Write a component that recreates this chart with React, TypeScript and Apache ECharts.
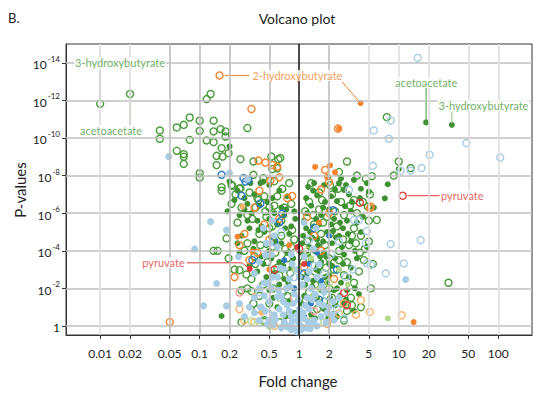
import React, { useEffect, useRef } from 'react';
import * as echarts from 'echarts';

// Every point is [log10 fold change, -log10 p-value].
const greenOpen: number[][] = [
  [-2.0, 11.82], [-1.70, 12.34],
  [-1.40, 10.40], [-1.40, 9.96], [-1.23, 10.56], [-1.16, 10.70], [-1.10, 11.09], [-1.10, 9.90],
  [-1.23, 9.32], [-1.16, 9.14], [-1.16, 9.00], [-1.16, 8.62], [-1.00, 10.92], [-1.00, 10.38],
  [-1.00, 8.13], [-1.00, 7.89], [-0.93, 12.07], [-0.89, 12.34], [-0.86, 10.92], [-0.86, 10.35],
  [-0.93, 9.87], [-0.86, 9.78], [-0.79, 10.47], [-0.74, 10.35], [-0.74, 10.08], [-0.78, 9.46],
  [-0.83, 9.05], [-0.77, 9.01], [-0.71, 9.19], [-0.83, 8.56], [-0.59, 8.87], [-0.52, 10.53],
  [-0.46, 8.75], [-0.28, 9.01], [-0.21, 8.87], [-0.19, 8.93], [-0.22, 8.39], [-0.27, 8.34],
  [-0.46, 8.04], [-0.36, 7.86], [-0.78, 7.38], [-0.67, 7.45], [-0.59, 7.33],
  [0.48, 8.75], [0.40, 8.19], [0.58, 8.00], [0.73, 7.97], [0.67, 7.83], [0.31, 7.48], [0.88, 11.11],
  [1.00, 8.75], [1.12, 8.40], [0.95, 8.00], [0.55, 6.70], [0.78, 5.64], [0.71, 7.00], [1.50, 2.30],
  [-0.07, 5.10], [0.69, 6.35], [0.23, 6.70], [0.53, 4.80],
  [0.10, 6.60], [0.20, 6.20], [0.28, 5.80], [0.36, 6.10], [0.45, 5.90], [0.55, 5.20], [0.62, 4.80],
  [0.50, 4.30], [0.40, 4.00], [0.30, 3.60], [0.22, 4.90], [0.15, 5.40], [0.08, 4.50], [0.35, 3.00],
  [0.45, 2.70], [0.55, 2.30], [0.60, 2.90], [0.65, 3.50], [0.52, 1.50], [0.42, 1.20], [0.30, 2.00],
  [0.20, 3.20], [0.12, 2.60], [0.25, 1.30], [0.62, 1.00], [0.48, 0.80], [0.35, 0.60], [0.70, 5.60],
  [0.58, 6.00], [0.42, 6.60], [0.33, 7.00], [0.20, 7.10], [0.66, 4.10], [0.72, 2.00], [0.74, 3.30],
  [0.18, 0.90], [0.10, 1.80], [0.04, 3.40], [0.26, 4.30], [0.38, 5.30], [0.48, 3.40],
  [0.06, 6.10], [0.14, 5.90], [0.24, 5.50], [0.31, 4.90], [0.44, 4.60], [0.57, 4.40], [0.61, 3.90],
  [0.40, 3.50], [0.27, 3.10], [0.16, 2.20], [0.06, 1.30], [0.33, 1.50], [0.53, 1.10], [0.45, 0.30],
  [0.12, 7.60], [0.39, 7.30], [0.51, 6.40], [0.64, 6.60], [0.70, 4.50],
  [-0.60, 7.30], [-0.50, 7.10], [-0.42, 6.80], [-0.68, 6.50], [-0.58, 6.30], [-0.47, 5.70],
  [-0.33, 5.80], [-0.27, 5.30], [-0.39, 4.30], [-0.55, 4.00], [-0.71, 3.60], [-0.65, 3.00],
  [-0.48, 2.50], [-0.58, 1.90], [-0.40, 1.60], [-0.30, 1.20], [-0.16, 1.80], [-0.22, 3.10],
  [-0.12, 3.60], [-0.08, 4.20], [-0.18, 4.80], [-0.25, 6.40], [-0.15, 6.30], [-0.35, 6.90],
  [-0.82, 4.00], [-0.52, 2.00], [-0.42, 0.90], [-0.35, 0.30], [-0.20, 0.20], [-0.58, 0.20],
  [-0.62, 5.50], [-0.44, 3.30], [-0.08, 6.50], [-0.86, 4.00], [-0.73, 4.66], [-0.60, 2.97],
  [-0.48, 1.85], [-0.53, 2.74], [-0.78, 7.20], [-0.68, 7.50], [-0.64, 7.00], [-0.41, 6.70],
  [-0.34, 6.10], [-0.22, 6.90], [-0.17, 7.30], [-0.10, 7.60], [-0.25, 7.70], [-0.35, 0.21],
  [-0.05, 4.60], [-0.14, 4.10], [-0.24, 3.90], [-0.32, 3.40], [-0.45, 3.70], [-0.52, 4.40],
  [-0.40, 4.90], [-0.30, 5.20], [-0.52, 5.90], [-0.44, 6.30], [-0.30, 6.30], [-0.18, 5.60],
  [-0.09, 2.80], [-0.20, 2.70], [-0.36, 2.20], [-0.26, 2.00], [-0.12, 1.60], [-0.46, 1.20],
  [-0.10, 0.60],
];

const greenFilled: number[][] = [
  [1.275, 10.83], [1.534, 10.70],
  [-0.70, 9.55], [-0.36, 7.68], [0.15, 7.60], [0.89, 7.54], [1.00, 8.34], [0.86, 6.79], [0.68, 7.60],
  [-0.78, 0.53],
  [0.42, 7.85], [0.55, 7.77], [0.62, 7.30], [0.70, 7.15], [0.45, 7.24], [0.25, 7.50], [0.18, 6.95],
  [0.38, 6.64], [0.46, 6.37], [0.52, 6.10], [0.12, 6.40], [0.30, 6.20], [0.22, 5.90], [0.08, 6.00],
  [0.35, 5.70], [0.58, 5.50], [0.44, 5.20], [0.62, 5.00], [0.28, 5.00], [0.15, 5.30], [0.05, 5.60],
  [0.18, 4.60], [0.33, 4.40], [0.40, 4.80], [0.52, 4.50], [0.68, 4.20], [0.10, 4.20], [0.25, 3.90],
  [0.45, 3.80], [0.58, 3.60], [0.12, 3.50], [0.30, 3.30], [0.40, 3.00], [0.20, 2.90], [0.50, 2.60],
  [0.08, 2.80], [0.28, 2.30], [0.35, 1.90], [0.60, 1.70], [0.18, 1.50], [0.45, 1.20], [0.25, 0.90],
  [0.55, 0.80], [0.12, 0.60], [0.38, 0.50], [0.04, 4.80], [0.02, 3.90], [0.06, 2.20], [0.32, 6.90],
  [0.50, 7.00], [0.75, 6.30], [0.40, 7.60], [0.14, 7.20], [0.36, 7.25], [0.26, 6.60], [0.20, 5.40],
  [0.48, 5.60], [0.34, 5.05], [0.24, 4.50], [0.15, 4.00], [0.36, 3.60], [0.22, 3.40], [0.30, 2.70],
  [0.42, 2.30], [0.14, 2.40], [0.22, 1.90], [0.48, 1.90],
  [0.07, 6.80], [0.11, 5.00], [0.19, 4.30], [0.27, 3.70], [0.33, 3.20], [0.09, 3.80], [0.17, 3.00],
  [0.26, 2.60], [0.38, 2.00], [0.13, 2.10], [0.05, 1.60], [0.21, 1.20], [0.31, 1.50], [0.41, 1.60],
  [0.29, 0.40], [0.16, 0.40], [0.43, 4.20], [0.49, 4.90], [0.56, 4.00], [0.64, 5.80], [0.53, 6.60],
  [0.61, 6.80], [0.29, 7.90], [0.47, 7.50], [0.09, 7.40], [0.24, 6.30], [0.17, 5.70], [0.32, 5.40],
  [0.41, 5.50], [0.07, 5.20], [0.03, 4.40], [0.13, 4.70], [0.21, 3.70], [0.37, 4.70], [0.44, 3.30],
  [0.52, 3.10], [0.56, 2.00], [0.47, 1.40], [0.36, 1.10], [0.03, 2.60], [0.02, 1.20],
  [-0.65, 6.70], [-0.55, 6.20], [-0.60, 5.90], [-0.48, 6.00], [-0.40, 6.40], [-0.32, 6.60],
  [-0.25, 6.00], [-0.42, 5.60], [-0.50, 5.20], [-0.35, 5.00], [-0.22, 5.40], [-0.15, 5.90],
  [-0.28, 4.70], [-0.45, 4.50], [-0.62, 4.40], [-0.18, 4.40], [-0.10, 4.90], [-0.30, 4.00],
  [-0.38, 3.70], [-0.20, 3.40], [-0.12, 3.90], [-0.08, 3.10], [-0.26, 2.80], [-0.15, 2.50],
  [-0.05, 2.00], [-0.30, 1.90], [-0.10, 1.30], [-0.22, 1.00], [-0.05, 0.70], [-0.20, 7.20],
  [-0.30, 7.50], [-0.45, 7.00], [-0.70, 7.70], [-0.55, 6.80], [-0.12, 6.90], [-0.05, 6.10],
  [-0.08, 5.30], [-0.60, 3.90], [-0.50, 3.20], [-0.72, 6.10], [-0.38, 5.30], [-0.18, 6.30],
  [-0.30, 5.70],
  [-0.14, 5.20], [-0.24, 4.50], [-0.33, 4.30], [-0.41, 5.10], [-0.52, 5.60], [-0.58, 4.80],
  [-0.46, 4.10], [-0.36, 3.30], [-0.28, 3.60], [-0.16, 3.20], [-0.06, 3.60], [-0.11, 2.30],
  [-0.20, 2.20], [-0.33, 2.60], [-0.42, 2.90], [-0.26, 1.50], [-0.14, 0.50], [-0.04, 5.70],
  [-0.13, 6.20], [-0.27, 6.80], [-0.39, 7.60], [-0.49, 7.60], [-0.62, 7.20], [-0.52, 6.50],
];

const orangeOpen: number[][] = [
  [-0.80, 13.33],
  [-0.48, 11.54], [-0.41, 8.80], [-0.34, 8.69], [-0.27, 8.57], [-0.22, 8.48], [-0.20, 7.91],
  [-0.29, 7.73], [0.39, 10.50], [0.26, 8.30], [0.30, 7.66], [0.22, 7.27], [-0.07, 6.92],
  [0.72, 6.35], [0.71, 6.26], [-1.30, 0.21],
  [-0.45, 6.30], [-0.35, 5.40], [-0.55, 4.90], [-0.60, 4.30], [-0.42, 3.90], [-0.30, 4.60],
  [-0.50, 3.50], [0.08, 5.80], [0.15, 4.80], [0.22, 4.00], [0.05, 3.10], [0.30, 6.00],
  [-0.12, 6.80], [-0.40, 7.20], [-0.20, 5.70], [0.35, 2.50], [-0.65, 2.60],
];

const orangeFilled: number[][] = [
  [0.617, 11.86],
  [0.40, 10.49], [0.31, 8.54], [0.28, 7.93], [0.36, 8.17], [0.16, 8.46], [-0.62, 4.75],
  [-0.47, 3.96], [1.15, 0.21], [-0.10, 4.30], [0.20, 5.50], [-0.30, 3.00],
];

const lightOrangeOpen: number[][] = [
  [0.62, 1.37], [0.71, 0.75], [0.57, 0.61], [0.40, 0.66], [1.03, 0.57],
  [-0.45, 0.20], [-0.55, 0.30], [-0.25, 0.00], [0.28, 0.10], [0.45, 1.20], [-0.60, 0.90],
];

const lightOrangeFilled: number[][] = [
  [-0.57, 6.35], [-0.45, 1.60], [-0.38, 0.70], [0.32, 0.30],
];

const darkBlueOpen: number[][] = [
  [-0.78, 8.04], [-0.56, 7.86], [-0.51, 7.77], [-0.47, 3.50], [-0.20, 5.51], [-0.17, 5.97],
  [-0.58, 6.93], [-0.54, 7.68], [-0.39, 6.52], [0.34, 6.16], [0.15, 5.20], [-0.25, 4.50],
  [0.05, 2.80], [0.20, 1.40], [0.38, 3.00],
];

const darkBlueFilled: number[][] = [
  [0.18, 3.90], [0.10, 3.30], [-0.05, 2.00], [0.22, 2.40], [0.12, 1.20], [0.30, 4.80],
  [-0.15, 3.50], [0.05, 0.50],
];

const lightGreenOpen: number[][] = [
  [-0.40, 0.21], [0.15, 1.60], [0.30, 2.30], [-0.20, 1.50], [0.25, 0.20], [-0.48, 0.25], [0.08, 4.00],
];

const lightGreenFilled: number[][] = [
  [0.89, 0.40], [0.49, 2.21], [0.40, 3.00], [0.12, 3.60], [-0.05, 3.00], [0.20, 2.00],
  [-0.30, -0.05], [0.10, 0.30],
];

const redOpen: number[][] = [
  [1.04, 6.93], [0.61, 6.56], [0.45, 1.76], [-0.25, 3.00], [0.00, 4.10], [0.48, 1.10],
];

const pinkOpen: number[][] = [
  [-0.60, 1.78], [0.15, 0.80], [-0.05, 1.50],
];

const redFilled: number[][] = [
  [-0.497, 3.04], [0.05, 3.30], [-0.02, 4.20],
];

const lightBlueOpen: number[][] = [
  [1.19, 14.26], [0.92, 10.93], [0.75, 10.40], [0.90, 9.96], [1.68, 9.73], [1.31, 9.11],
  [2.02, 8.96], [0.74, 8.52], [1.23, 8.40], [1.12, 8.26], [1.02, 8.26], [0.50, 7.24],
  [0.55, 5.64], [0.60, 5.64], [0.68, 5.05], [0.92, 4.36], [0.67, 4.40], [0.68, 3.33],
  [0.72, 3.24], [0.87, 2.80], [1.05, 3.33], [0.54, 3.01], [0.47, 2.62], [1.22, 4.57],
  [0.25, 2.80], [0.15, 3.20], [-0.05, 2.60], [0.32, 3.80], [0.10, 4.60], [-0.18, 5.00],
  [0.40, 4.50], [0.28, 1.60], [-0.30, 0.60], [0.45, 0.40], [0.38, 0.90], [-0.40, 1.80],
];

const lightBlueFilled: number[][] = [
  [-1.31, 9.01], [-0.70, 8.13], [-0.52, 7.81], [-0.89, 5.55], [-0.73, 5.10], [-1.05, 4.09],
  [-0.61, 3.68], [-0.96, 1.07], [-0.73, 1.07], [-0.83, 2.26], [0.05, 5.49], [1.07, 2.47],
  [-0.29, 4.41], [-0.22, 4.21], [-0.34, 3.77], [-0.19, 3.08], [-0.31, 2.28], [-0.39, 1.01],
  [-0.22, 1.55], [-0.09, 2.08],
  [-0.35, 2.30], [-0.28, 2.00], [-0.22, 2.60], [-0.18, 1.60], [-0.30, 1.30], [-0.38, 1.00],
  [-0.45, 1.50], [-0.12, 1.10], [-0.08, 0.50], [-0.15, 0.20], [-0.25, 0.60], [-0.05, 1.70],
  [0.00, 0.90], [0.00, 0.10], [0.05, 0.40], [0.10, 0.90], [0.08, 1.50], [0.15, 0.30],
  [0.20, 1.20], [0.03, 2.20], [-0.10, 2.50], [-0.02, 3.00], [0.12, 2.00], [0.18, 2.60],
  [0.25, 1.80], [0.30, 1.00], [0.22, 0.50], [0.35, 0.30], [-0.40, 0.30], [-0.32, 0.10],
  [-0.05, -0.10], [0.02, -0.20], [-0.02, 0.30], [0.07, -0.10], [-0.12, -0.05], [-0.20, 0.90],
  [-0.45, 2.80], [-0.50, 1.00], [-0.40, 3.40], [-0.28, 3.80], [0.20, 3.30], [-0.55, 0.50],
  [-0.15, 3.00], [0.40, 1.50], [-0.60, 1.20], [0.05, 3.70], [-0.33, 4.40], [-0.08, 3.80],
  [0.14, 4.10], [-0.25, 4.80], [-0.36, 5.20], [-0.27, 5.60], [0.17, 5.20], [-0.10, 0.00],
  [0.04, 0.70], [-0.16, 0.60], [0.12, 0.05], [-0.26, 0.05], [0.28, 0.70], [-0.06, 1.20],
  [-0.02, 0.60], [0.01, 0.45], [-0.07, 0.25], [0.09, 0.20], [-0.10, 0.80], [0.06, 1.10],
  [-0.16, 1.30], [0.13, 1.40], [-0.21, 1.90], [0.16, 1.70], [-0.01, 1.40], [0.23, 2.10],
  [-0.27, 2.60], [0.08, 2.50], [-0.13, 2.00], [0.27, 0.20], [-0.30, 0.30], [-0.34, 0.80],
  [0.33, 0.60], [-0.02, -0.30], [0.03, -0.05], [-0.08, -0.20], [0.11, -0.15], [-0.18, -0.10],
  [0.18, 0.00], [-0.24, 0.35], [0.24, 1.10], [-0.40, 2.00], [0.00, 2.60], [-0.07, 3.30],
  [0.10, 2.90], [-0.35, 1.60], [0.34, 1.30], [-0.45, 0.70],
];

const xTickLabels = ['0.01', '0.02', '0.05', '0.1', '0.2', '0.5', '1', '2', '5', '10', '20', '50', '100'];
const xInnerGrid = ['0.05', '0.1', '0.2', '0.5', '2'];
const yTickExponents = [0, 2, 4, 6, 8, 10, 12, 14];

const annotationNames = [
  '3-hydroxybutyrate', 'acetoacetate', '2-hydroxybutyrate', 'acetoacetate',
  '3-hydroxybutyrate', 'pyruvate', 'pyruvate',
];

// Label anchors and leader lines, in axis units.
const GREEN = '#4a9b3b';
const GREEN_DARK = '#3f9032';
const ORANGE = '#f4842e';
const RED = '#e0393a';
const labelAnchors = [
  { at: [-1.80, 14.0], pos: 'inside', color: GREEN },
  { at: [-1.89, 10.38], pos: 'inside', color: GREEN },
  { at: [-0.49, 13.33], pos: 'right', color: ORANGE },
  { at: [1.277, 12.96], pos: 'inside', color: GREEN },
  { at: [1.851, 11.73], pos: 'inside', color: GREEN },
  { at: [1.405, 6.93], pos: 'right', color: RED },
  { at: [-1.13, 3.36], pos: 'left', color: RED },
];
const leaders = [
  { path: [[-2.0, 13.6], [-2.0, 12.1]], color: GREEN },
  { path: [[-1.699, 12.62], [-1.699, 10.68]], color: GREEN },
  { path: [[-0.75, 13.33], [-0.50, 13.33]], color: ORANGE },
  { path: [[0.43, 13.0], [0.60, 11.95]], color: ORANGE },
  { path: [[1.275, 12.66], [1.275, 10.9]], color: GREEN },
  { path: [[1.534, 11.41], [1.534, 10.75]], color: '#8cc27d' },
  { path: [[1.09, 6.93], [1.41, 6.93]], color: RED },
  { path: [[-1.128, 3.36], [-0.574, 3.36], [-0.497, 3.04]], color: RED },
];

const FONT = 'Lato, "Open Sans", sans-serif';
const INK = '#222';

function pointSeries(data: number[][], color: string, filled: boolean, size = 6) {
  return {
    type: 'scatter',
    data,
    symbol: 'circle',
    symbolSize: filled ? size : 7,
    silent: true,
    z: 3,
    itemStyle: filled
      ? { color, opacity: 1 }
      : { color: 'rgba(255,255,255,0)', borderColor: color, borderWidth: 1.4, opacity: 1 },
  };
}

export default function App() {
  const ref = useRef<HTMLDivElement>(null);

  useEffect(() => {
    document.body.style.margin = '0';
    const chart = echarts.init(ref.current!, null, { renderer: 'svg' });
    const xVals = xTickLabels.map((l) => Math.log10(Number(l)));
    const xLabelOf = (v: number) => {
      const i = xVals.findIndex((x) => Math.abs(x - v) < 1e-6);
      return i >= 0 ? xTickLabels[i] : '';
    };

    const gridLines = [
      ...yTickExponents.map((v) => ({ yAxis: v, lineStyle: { color: '#bfbfbf', width: 1.6, type: 'solid' } })),
      ...xTickLabels
        .filter((l) => l !== '1')
        .map((l) => ({
          xAxis: Math.log10(Number(l)),
          lineStyle: { color: xInnerGrid.includes(l) ? '#bfbfbf' : '#dedede', width: 1.6, type: 'solid' },
        })),
      { xAxis: 0, lineStyle: { color: '#111', width: 1.5, type: 'solid' } },
    ];

    chart.setOption({
      animation: false,
      grid: { left: 66, right: 2, top: 44, bottom: 61, show: true, borderColor: '#333', borderWidth: 1, containLabel: false },
      xAxis: {
        type: 'value',
        min: -2.343,
        max: 2.339,
        splitLine: { show: false },
        axisLine: { show: true, onZero: false, lineStyle: { color: '#333', width: 1 } },
        axisTick: { show: true, customValues: xVals, length: 4, lineStyle: { color: '#333' } },
        axisLabel: {
          customValues: xVals,
          formatter: (v: number) => xLabelOf(v),
          margin: 12,
          fontFamily: FONT,
          fontSize: 12,
          color: INK,
        },
      },
      yAxis: {
        type: 'value',
        min: -0.48,
        max: 15,
        splitLine: { show: false },
        axisLine: { show: true, onZero: false, lineStyle: { color: '#333', width: 1 } },
        axisTick: { show: true, customValues: yTickExponents, length: 4, lineStyle: { color: '#333' } },
        axisLabel: {
          customValues: yTickExponents,
          margin: 6,
          formatter: (v: number) => (v === 0 ? '{b|1}' : `{b|10}{s|-${v}}`),
          rich: {
            b: { fontFamily: FONT, fontSize: 12, color: INK, lineHeight: 16, verticalAlign: 'bottom' },
            s: { fontFamily: FONT, fontSize: 8, color: INK, lineHeight: 16, verticalAlign: 'top', padding: [0, 0, 0, 1] },
          },
        },
      },
      graphic: [
        { type: 'text', x: 8, y: 18, style: { text: 'B.', font: `13px ${FONT}`, fill: INK, textAlign: 'left', textVerticalAlign: 'middle' } },
        { type: 'text', x: 297, y: 18, style: { text: 'Volcano plot', font: `14px ${FONT}`, fill: INK, textAlign: 'center', textVerticalAlign: 'middle' } },
        { type: 'text', x: 298, y: 381, style: { text: 'Fold change', font: `15px ${FONT}`, fill: INK, textAlign: 'center', textVerticalAlign: 'middle' } },
        { type: 'text', x: 20, y: 190, rotation: Math.PI / 2, style: { text: 'P-values', font: `15px ${FONT}`, fill: INK, textAlign: 'center', textVerticalAlign: 'middle' } },
      ],
      series: [
        {
          type: 'scatter',
          data: [],
          silent: true,
          z: 1,
          markLine: { silent: true, symbol: 'none', label: { show: false }, data: gridLines },
        },
        pointSeries(greenOpen, GREEN, false),
        pointSeries(greenFilled, GREEN_DARK, true),
        pointSeries(orangeOpen, ORANGE, false),
        pointSeries(orangeFilled, ORANGE, true),
        pointSeries(lightOrangeOpen, '#f9b46c', false),
        pointSeries(lightOrangeFilled, '#f9b46c', true),
        pointSeries(darkBlueOpen, '#2f7abd', false),
        pointSeries(darkBlueFilled, '#2f7abd', true),
        pointSeries(redOpen, RED, false),
        pointSeries(pinkOpen, '#f49c9b', false),
        pointSeries(redFilled, RED, true),
        pointSeries(lightGreenOpen, '#b3da8d', false),
        pointSeries(lightGreenFilled, '#b3da8d', true),
        pointSeries(lightBlueOpen, '#a8cde4', false),
        pointSeries(lightBlueFilled, '#a8cde4', true, 7),
        {
          type: 'lines',
          coordinateSystem: 'cartesian2d',
          polyline: true,
          silent: true,
          z: 4,
          data: leaders.map((l) => ({ coords: l.path, lineStyle: { color: l.color, width: 1, opacity: 1 } })),
        },
        {
          type: 'scatter',
          silent: true,
          z: 5,
          symbolSize: 0,
          data: annotationNames.map((name, i) => ({
            name,
            value: labelAnchors[i].at,
            label: {
              show: true,
              formatter: name,
              position: labelAnchors[i].pos,
              distance: 1,
              color: labelAnchors[i].color,
              fontFamily: FONT,
              fontSize: 11,
              backgroundColor: '#fff',
              padding: [0, 1],
            },
          })),
        },
      ],
    });
    return () => chart.dispose();
  }, []);

  return <div ref={ref} style={{ width: 534, height: 396 }} />;
}
